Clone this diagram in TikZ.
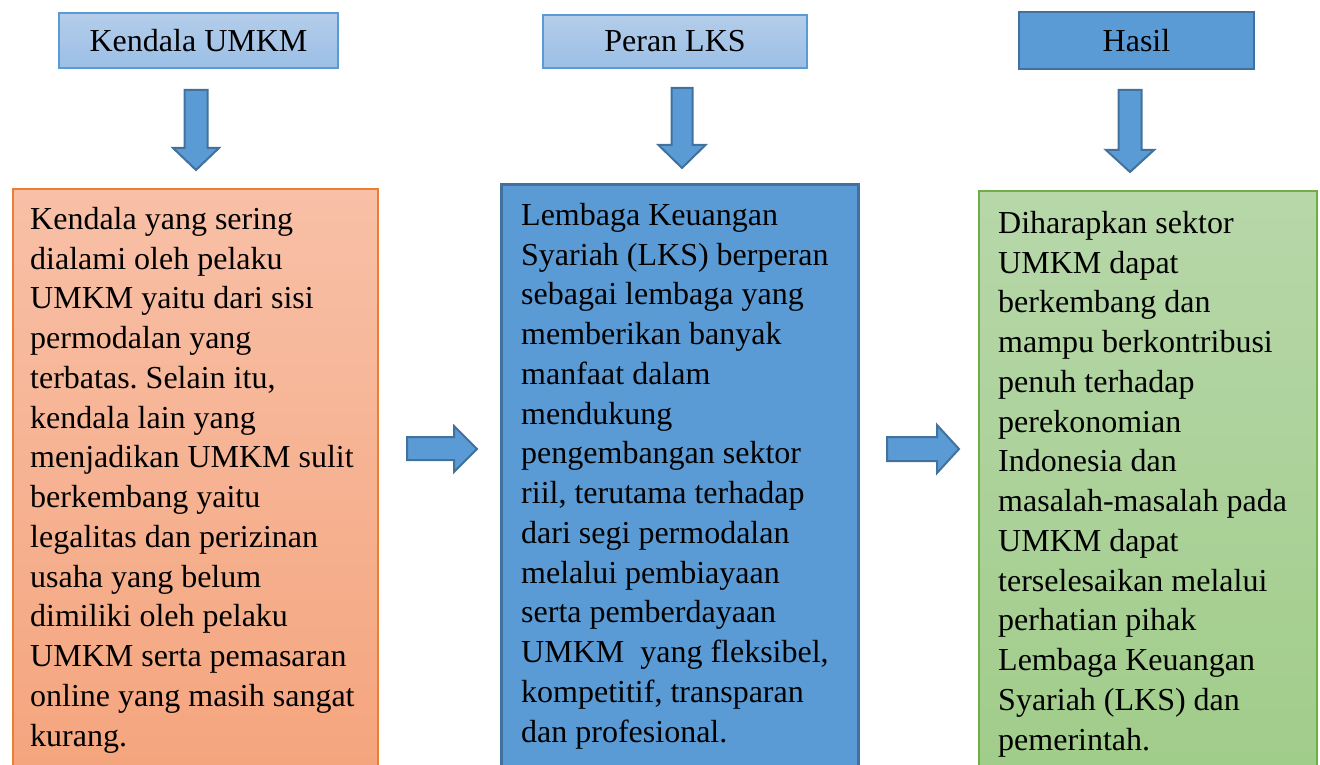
\documentclass[tikz,border=0pt]{standalone}
\usepackage{fontspec}
\setmainfont{Liberation Serif}
\frenchspacing
\definecolor{biru}{HTML}{5B9BD5}
\definecolor{biruTua}{HTML}{41719C}
\definecolor{biruAtas}{HTML}{B4CDEA}
\definecolor{biruBawah}{HTML}{9BBFE6}
\definecolor{oranyeGaris}{HTML}{ED7D31}
\definecolor{oranyeAtas}{HTML}{F8C0A7}
\definecolor{oranyeBawah}{HTML}{F4A47C}
\definecolor{hijauGaris}{HTML}{70AD47}
\definecolor{hijauAtas}{HTML}{B7D7A9}
\definecolor{hijauBawah}{HTML}{A0CC89}
\tikzset{
	judul/.style={inner sep=0, font=\fontsize{32}{39.75}\selectfont},
	judulMuda/.style={judul, draw=biru, line width=1.5, top color=biruAtas, bottom color=biruBawah},
	judulTua/.style={judul, draw=biruTua, line width=2, fill=biru},
	kotak/.style={anchor=north west, inner sep=0},
	isi/.style={anchor=north west, align=left, inner sep=0, font=\fontsize{32}{39.75}\selectfont},
	panah/.style={draw=biruTua, fill=biru, line width=2, line join=miter},
}
\begin{document}
\begin{tikzpicture}[x=1pt,y=-1pt]
				\useasboundingbox (0,0) rectangle (1320,765);
				\clip (0,0) rectangle (1320,765);
				\coordinate (K0) at (12,188);
				\coordinate (P0) at (500,183);
				\coordinate (H0) at (978,190);

				\node[judulMuda, minimum width=279, minimum height=55] (kendalaJudul) at (198.5,40.5) {Kendala UMKM};
				\node[judulMuda, minimum width=264, minimum height=53] (peranJudul) at (675,41.5) {Peran LKS};
				\node[judulTua, minimum width=235, minimum height=57] (hasilJudul) at (1136.5,40.5) {Hasil};

				\node[kotak, draw=oranyeGaris, line width=1.5, top color=oranyeAtas, bottom color=oranyeBawah, minimum width=365, minimum height=600] (kendalaKotak) at (K0) {};
				\node[kotak, draw=biruTua, line width=2.5, fill=biru, minimum width=357, minimum height=600] (peranKotak) at (P0) {};
				\node[kotak, draw=hijauGaris, line width=1.5, top color=hijauAtas, bottom color=hijauBawah, minimum width=338, minimum height=600] (hasilKotak) at (H0) {};

				\node[isi] (kendalaIsi) at (30,207) {Kendala yang sering\\dialami oleh pelaku\\UMKM yaitu dari sisi\\permodalan yang\\terbatas. Selain itu,\\kendala lain yang\\menjadikan UMKM sulit\\berkembang yaitu\\legalitas dan perizinan\\usaha yang belum\\dimiliki oleh pelaku\\UMKM serta pemasaran\\online yang masih sangat\\kurang.};
				\node[isi] (peranIsi) at (521,203) {Lembaga Keuangan\\Syariah (LKS) berperan\\sebagai lembaga yang\\memberikan banyak\\manfaat dalam\\mendukung\\pengembangan sektor\\riil, terutama terhadap\\dari segi permodalan\\melalui pembiayaan\\serta pemberdayaan\\UMKM\ \ yang fleksibel,\\kompetitif, transparan\\dan profesional.};
				\node[isi] (hasilIsi) at (998,211) {Diharapkan sektor\\UMKM dapat\\berkembang dan\\mampu berkontribusi\\penuh terhadap\\perekonomian\\Indonesia dan\\masalah-masalah pada\\UMKM dapat\\terselesaikan melalui\\perhatian pihak\\Lembaga Keuangan\\Syariah (LKS) dan\\pemerintah.};

				\draw[panah] (184.5,90) -- (207.5,90) -- (207.5,148) -- (219,148) -- (196,170) -- (173,148) -- (184.5,148) -- cycle;
				\draw[panah] (671.5,88) -- (692.5,88) -- (692.5,145) -- (705.5,145) -- (682,168) -- (658.5,145) -- (671.5,145) -- cycle;
				\draw[panah] (1118.5,90) -- (1141.5,90) -- (1141.5,150) -- (1154,150) -- (1130,172) -- (1106,150) -- (1118.5,150) -- cycle;
				\draw[panah] (407,437) -- (454,437) -- (454,426) -- (477,449) -- (454,472) -- (454,460) -- (407,460) -- cycle;
				\draw[panah] (887,437) -- (937,437) -- (937,425) -- (959,449) -- (937,473) -- (937,461) -- (887,461) -- cycle;
			\end{tikzpicture}
\end{document}
